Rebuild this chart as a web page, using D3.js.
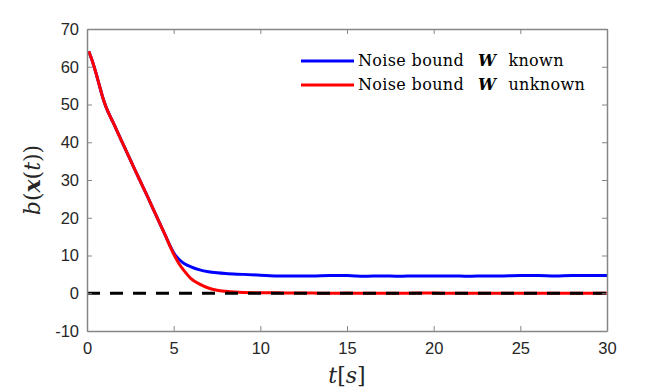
<!DOCTYPE html>
<html><head><meta charset="utf-8">
<script src="https://cdn.jsdelivr.net/npm/d3@7"></script>
<style>body{margin:0;background:#fff}svg{display:block}</style>
</head><body>
<svg id="c" width="672" height="390"></svg>
<script>
const xTicks = [0, 5, 10, 15, 20, 25, 30];
const yTicks = [-10, 0, 10, 20, 30, 40, 50, 60, 70];
const seriesNames = ["Noise bound", "W", "known", "unknown"];

const tRed = [0.1,0.3,0.5,0.7,0.9,1.1,1.5,2,2.5,3,3.5,4,4.5,5,5.3,5.6,6,6.5,7,7.5,8,8.5,9,10,11,12,13,14,15,16,17,18,19,20,21,22,23,24,25,26,27,28,29,30];
const redVals = [64.1,61.6,58.6,55.3,52.0,49.3,45.3,40.3,35.3,30.4,25.5,20.5,15.5,10.4,7.9,6.0,3.9,2.4,1.4,0.8,0.5,0.3,0.2,0.15,0.1,0.05,0.05,0.0,0.05,0.0,0.0,0.0,0.05,0.05,0.0,0.0,0.0,0.0,0.0,0.0,0.0,0.0,0.0,0.0];

const tBlue = [0.1,0.3,0.5,0.7,0.9,1.1,1.5,2,2.5,3,3.5,4,4.5,4.8,5.0,5.3,5.6,6,6.5,7,7.5,8,9,10,11,12,13,14,15,16,17,18,19,20,21,22,23,24,25,26,27,28,29,30];
const blueVals = [64.1,61.6,58.6,55.3,52.0,49.3,45.3,40.3,35.3,30.4,25.5,20.5,15.5,12.5,10.7,9.0,7.9,7.0,6.2,5.7,5.4,5.2,5.0,4.8,4.6,4.6,4.6,4.7,4.7,4.5,4.6,4.5,4.6,4.6,4.6,4.5,4.6,4.6,4.7,4.7,4.6,4.7,4.7,4.7];

const zeroT = [0, 30];
const zeroVals = [0, 0];

const svg = d3.select("#c");
const L = 87, R = 607, T = 29, B = 331;
const x = d3.scaleLinear().domain([0, 30]).range([L, R]);
const y = d3.scaleLinear().domain([-10, 70]).range([B, T]);
const axisCol = "#868686", textCol = "#262626";

const line = d3.line().x(d => x(d[0])).y(d => y(d[1])).curve(d3.curveMonotoneX);

const g = svg.append("g");
g.append("path").datum(d3.zip(tBlue, blueVals)).attr("d", line)
  .attr("fill", "none").attr("stroke", "#0000ff").attr("stroke-width", 3);
g.append("path").datum(d3.zip(tRed, redVals)).attr("d", line)
  .attr("fill", "none").attr("stroke", "#ff0000").attr("stroke-width", 3);
g.append("path").datum(d3.zip(zeroT, zeroVals)).attr("d", d3.line().x(d => x(d[0])).y(d => y(d[1])))
  .attr("fill", "none").attr("stroke", "#000").attr("stroke-width", 3).attr("stroke-dasharray", "13,10");

// axes
const fmt = d => String(d);
const ax = svg.append("g");
ax.append("g").attr("transform", `translate(0,${B})`)
  .call(d3.axisBottom(x).tickValues(xTicks).tickFormat(fmt).tickSizeInner(-5).tickSizeOuter(0).tickPadding(11));
ax.append("g").attr("transform", `translate(0,${T})`)
  .call(d3.axisTop(x).tickValues(xTicks).tickSizeInner(-5).tickSizeOuter(0).tickFormat(""));
ax.append("g").attr("transform", `translate(${L},0)`)
  .call(d3.axisLeft(y).tickValues(yTicks).tickFormat(fmt).tickSizeInner(-5).tickSizeOuter(0).tickPadding(8));
ax.append("g").attr("transform", `translate(${R},0)`)
  .call(d3.axisRight(y).tickValues(yTicks).tickSizeInner(-5).tickSizeOuter(0).tickFormat(""));
ax.selectAll(".domain").attr("stroke", axisCol).attr("stroke-width", 1.5);
ax.selectAll(".tick line").attr("stroke", axisCol).attr("stroke-width", 1);
ax.selectAll(".tick text").attr("fill", textCol).attr("font-family", "Liberation Sans, Arial, sans-serif").attr("font-size", 16.5);

// axis labels
svg.append("text").attr("x", 347).attr("y", 383).attr("text-anchor", "middle")
  .attr("font-family", "DejaVu Serif, serif").attr("font-size", 22).attr("fill", textCol)
  .html('<tspan font-style="italic">t</tspan><tspan>[</tspan><tspan font-style="italic">s</tspan><tspan>]</tspan>');
svg.append("text").attr("transform", "translate(40,180) rotate(-90)").attr("text-anchor", "middle")
  .attr("font-family", "DejaVu Serif, serif").attr("font-size", 22).attr("fill", textCol)
  .html('<tspan font-style="italic">b</tspan><tspan>(</tspan><tspan font-style="italic" font-weight="bold">x</tspan><tspan>(</tspan><tspan font-style="italic">t</tspan><tspan>))</tspan>');

// legend
const leg = [{c: "#0000ff", y: 61, s: seriesNames[2]}, {c: "#ff0000", y: 85, s: seriesNames[3]}];
leg.forEach(d => {
  svg.append("line").attr("x1", 301).attr("x2", 354).attr("y1", d.y).attr("y2", d.y)
    .attr("stroke", d.c).attr("stroke-width", 3);
  const t = svg.append("text").attr("x", 358).attr("y", d.y + 5)
    .attr("font-family", "DejaVu Serif, serif").attr("font-size", 16).attr("fill", "#000")
    .attr("letter-spacing", 0.35);
  t.append("tspan").text(seriesNames[0]);
  t.append("tspan").attr("dx", 14).attr("font-style", "italic").attr("font-weight", "bold").text(seriesNames[1]);
  t.append("tspan").attr("dx", 12).text(d.s);
});
</script>
</body></html>
